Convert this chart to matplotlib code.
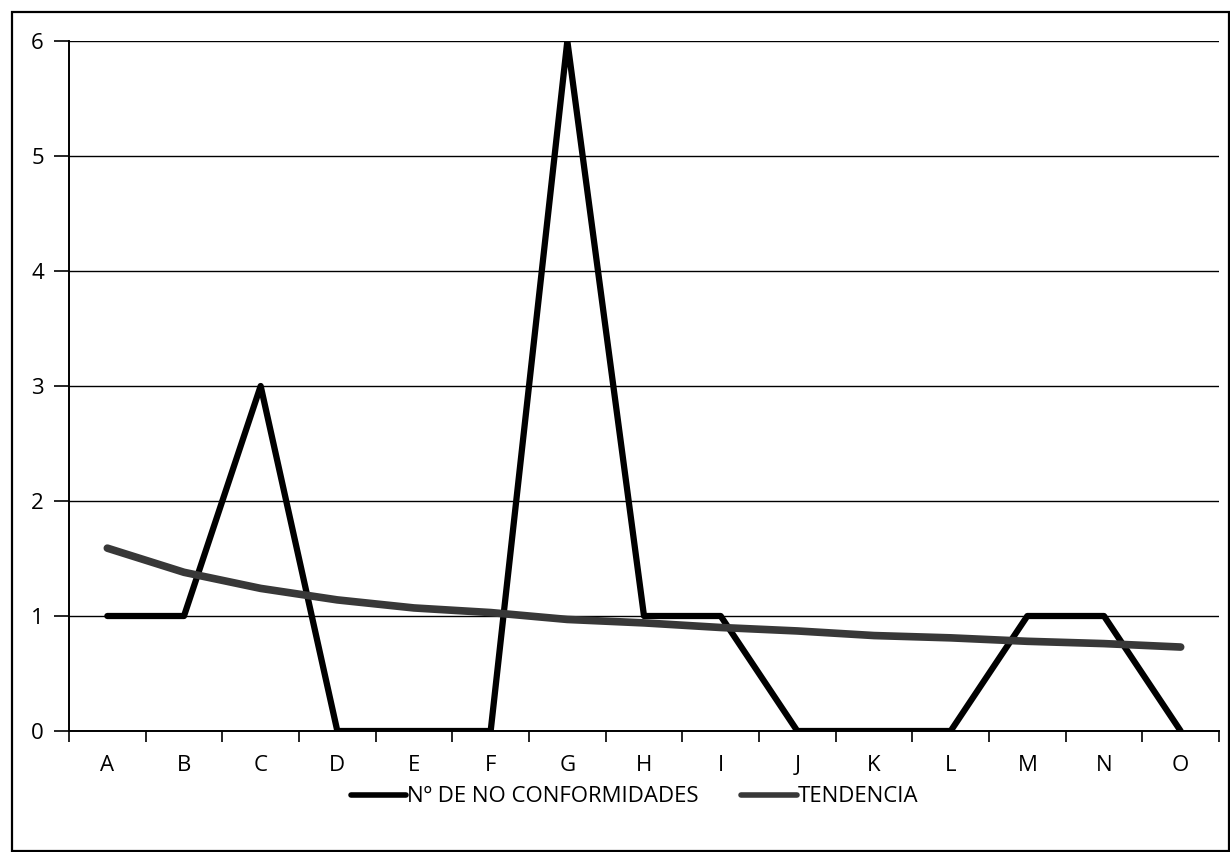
import matplotlib
matplotlib.use("Agg")
import matplotlib.pyplot as plt
from matplotlib.patches import Rectangle
from matplotlib.ticker import FixedLocator, NullFormatter

categories = ["A", "B", "C", "D", "E", "F", "G", "H", "I", "J", "K", "L", "M", "N", "O"]
no_conformidades = [1, 1, 3, 0, 0, 0, 6, 1, 1, 0, 0, 0, 1, 1, 0]
tendencia = [1.59, 1.38, 1.24, 1.14, 1.07, 1.03, 0.97, 0.94, 0.90, 0.87, 0.83, 0.81, 0.78, 0.76, 0.73]
y_ticks = [0, 1, 2, 3, 4, 5, 6]

plt.rcParams["font.family"] = ["Open Sans", "DejaVu Sans"]

fig = plt.figure(figsize=(12.3, 8.52), dpi=100)
fig.patches.append(Rectangle((12 / 1230, 1 / 852), 1 - 13 / 1230, 1 - 13 / 852,
                             transform=fig.transFigure, fill=False,
                             edgecolor="black", linewidth=1.6))

ax = fig.add_axes([69 / 1230, 1 - 731 / 852, (1219 - 69) / 1230, (731 - 41) / 852])

x = list(range(len(categories)))
ax.plot(x, no_conformidades, color="black", linewidth=4.5, solid_capstyle="round",
        solid_joinstyle="round", label="Nº DE NO CONFORMIDADES", zorder=3)
ax.plot(x, tendencia, color="#383838", linewidth=5.5, solid_capstyle="round",
        solid_joinstyle="round", label="TENDENCIA", zorder=4)

ax.set_xlim(-0.5, len(categories) - 0.5)
ax.set_ylim(0, 6)
ax.set_yticks(y_ticks)
ax.set_yticklabels([str(v) for v in y_ticks], fontsize=16)
ax.yaxis.grid(True, color="black", linewidth=1.0)
ax.set_axisbelow(True)

ax.set_xticks(x)
ax.set_xticklabels(categories, fontsize=16)
ax.tick_params(axis="x", which="major", length=0, pad=17)
ax.xaxis.set_minor_locator(FixedLocator([i - 0.5 for i in range(len(categories) + 1)]))
ax.xaxis.set_minor_formatter(NullFormatter())
ax.tick_params(axis="x", which="minor", length=8, width=1.2, color="black", direction="out")
ax.tick_params(axis="y", length=11, width=1.2, color="black", pad=7)

for side in ("top", "right"):
    ax.spines[side].set_visible(False)
for side in ("left", "bottom"):
    ax.spines[side].set_color("black")
    ax.spines[side].set_linewidth(1.4)

leg = fig.legend(loc="center", bbox_to_anchor=(0.516, 1 - 797 / 852), ncol=2,
                 frameon=False, fontsize=16, handlelength=2.5, handletextpad=0.05,
                 columnspacing=1.9)
for line in leg.get_lines():
    line.set_linewidth(4)

fig.savefig("out.png", dpi=100, facecolor="white")
